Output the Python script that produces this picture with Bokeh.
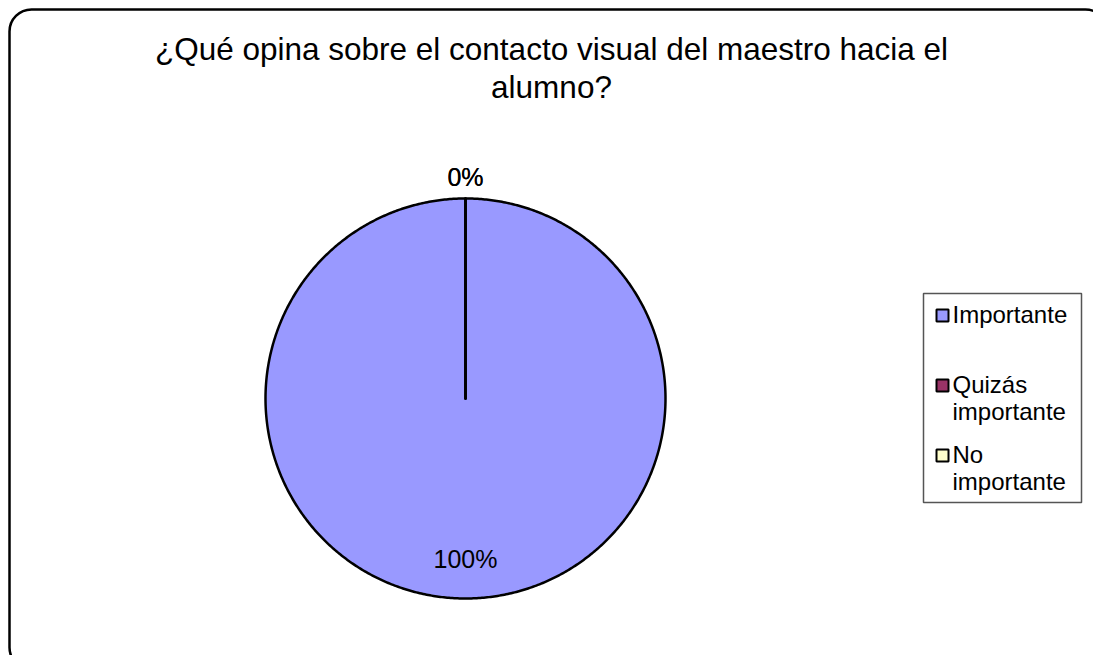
import numpy as np
from bokeh.plotting import figure
from bokeh.models import Range1d, BoxAnnotation, Label
from bokeh.core.properties import value
from bokeh.embed import file_html
from bokeh.resources import INLINE

# ---- data ----
title_lines = ["¿Qué opina sobre el contacto visual del maestro hacia el", "alumno?"]
categories = ["Importante", "Quizás importante", "No importante"]
percent = [100, 0, 0]
colors = ["#9999FF", "#993366", "#FFFFCC"]

W, H = 1093, 655
FONT = "Liberation Sans"

p = figure(width=W, height=H, output_backend="svg", toolbar_location=None,
           x_range=Range1d(0, W), y_range=Range1d(0, H),
           min_border=0, outline_line_color=None)
p.axis.visible = False
p.grid.visible = False
p.background_fill_color = "white"
p.border_fill_color = "white"

# outer rounded border
p.add_layout(BoxAnnotation(left=9, right=W + 14, bottom=-14, top=H - 9,
                           fill_color=None, fill_alpha=0, line_color="black",
                           line_alpha=1, line_width=2.5,
                           border_radius=22, level="underlay"))

# title
for i, line in enumerate(title_lines):
    p.add_layout(Label(x=551, y=607 - 38 * i, text=line, text_align="center",
                       text_baseline="alphabetic", text_font=FONT,
                       text_font_size="31.5px", text_color="black"))

# pie (slices built as polygons from the data's angles)
cx, cy, R = 465, 257, 200
vals = np.array(percent, dtype=float)
frac = vals / vals.sum()
ends = np.pi / 2 - 2 * np.pi * np.cumsum(frac)
starts = np.concatenate([[np.pi / 2], ends[:-1]])
xs, ys = [], []
for s, e in zip(starts, ends):
    n = max(2, int(abs(s - e) / (2 * np.pi) * 720) + 2)
    t = np.linspace(s, e, n)
    xs.append(np.concatenate([[cx], cx + R * np.cos(t), [cx]]))
    ys.append(np.concatenate([[cy], cy + R * np.sin(t), [cy]]))
order = np.argsort(-frac, kind="stable")
p.patches(xs=[xs[i] for i in order], ys=[ys[i] for i in order],
          fill_color=[colors[i] for i in order], line_color="black",
          line_width=2.5, line_join="round")

# labels
mids = (starts + ends) / 2
for m, f, v in zip(mids, frac, percent):
    r = 160 if f > 0.5 else 222
    p.text(x=[cx + r * np.cos(m)], y=[cy + r * np.sin(m)], text=[f"{v}%"],
           text_align="center", text_baseline="middle",
           text_font=value(FONT), text_font_size="25px", text_color="black")

# legend
p.add_layout(BoxAnnotation(left=923, right=1081, bottom=153, top=362,
                           fill_color="white", fill_alpha=1, line_color="#555555",
                           line_alpha=1, line_width=1.5, level="underlay"))
for i, (cat, col) in enumerate(zip(categories, colors)):
    sy = 340 - 70 * i
    p.scatter(x=[942], y=[sy], marker="square", size=12, fill_color=col,
              line_color="black", line_width=2)
    words = cat.split(" ")
    for j, w in enumerate(words):
        p.text(x=[952], y=[sy + 1 - 27 * j], text=[w], text_align="left",
               text_baseline="alphabetic", text_font=value(FONT),
               text_font_size="24px", text_color="black")

open("out.html", "w").write(file_html(p, INLINE))
